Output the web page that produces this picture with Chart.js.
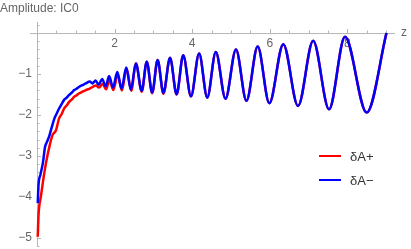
<!DOCTYPE html>
<html>
<head>
<meta charset="utf-8">
<script src="https://cdn.jsdelivr.net/npm/chart.js@4.4.1/dist/chart.umd.min.js"></script>
<style>
  html, body { margin: 0; padding: 0; background: #fff; }
  #wrap { width: 411px; height: 249px; }
</style>
</head>
<body>
<div id="wrap"><canvas id="ampChart" width="411" height="249"></canvas></div>
<script>
// valeurs (z, amplitude)
const plotTitle = 'Amplitude: IC0';
const axisLabelX = 'z';
const seriesNames = ['δA+', 'δA−'];
const xTickLabels = [2, 4, 6, 8];
const yTickLabels = [-1, -2, -3, -4, -5];

const zPlus = [0.02, 0.04, 0.10, 0.16, 0.23, 0.32, 0.40, 0.49, 0.57, 0.64, 0.70, 0.77, 0.83, 0.90, 0.96, 1.02, 1.09, 1.17, 1.26, 1.35, 1.44,
  1.52, 1.60, 1.69, 1.78, 1.87, 1.97, 2.08, 2.19, 2.31, 2.43, 2.55, 2.70, 2.83, 2.97, 3.11, 3.26, 3.43, 3.60, 3.77, 3.97,
  4.18, 4.39, 4.61, 4.86, 5.13, 5.40, 5.69, 5.99, 6.35, 6.73, 7.12, 7.53, 7.94, 8.50, 9.01];
const ampPlus = [-4.97, -4.44, -3.99, -3.59, -3.18, -2.77, -2.49, -2.37, -2.08, -1.97, -1.84, -1.76, -1.68, -1.62, -1.55, -1.52, -1.47, -1.43, -1.39, -1.36, -1.31,
  -1.28, -1.33, -1.24, -1.37, -1.16, -1.39, -1.01, -1.40, -0.86, -1.41, -0.74, -1.43, -0.70, -1.47, -0.66, -1.48, -0.60, -1.50, -0.54, -1.55,
  -0.50, -1.58, -0.46, -1.60, -0.40, -1.65, -0.33, -1.71, -0.27, -1.78, -0.19, -1.86, -0.09, -1.94, 0.00];

const zMinus = [0.02, 0.04, 0.09, 0.15, 0.21, 0.26, 0.32, 0.38, 0.45, 0.50, 0.57, 0.62, 0.70, 0.76, 0.83, 0.90, 0.96, 1.02, 1.09, 1.17, 1.26, 1.36,
  1.43, 1.51, 1.59, 1.68, 1.77, 1.86, 1.96, 2.07, 2.18, 2.30, 2.42, 2.55, 2.70, 2.83, 2.97, 3.11, 3.26, 3.43, 3.60, 3.77, 3.97,
  4.18, 4.39, 4.61, 4.86, 5.13, 5.40, 5.69, 5.99, 6.35, 6.73, 7.12, 7.53, 7.94, 8.50, 9.01];
const ampMinus = [-4.15, -3.70, -3.45, -3.18, -2.77, -2.65, -2.50, -2.30, -2.08, -1.98, -1.84, -1.76, -1.63, -1.58, -1.51, -1.45, -1.39, -1.36, -1.31, -1.27, -1.23, -1.18,
  -1.23, -1.16, -1.26, -1.12, -1.30, -1.05, -1.33, -0.95, -1.36, -0.84, -1.38, -0.74, -1.41, -0.70, -1.45, -0.66, -1.46, -0.60, -1.49, -0.54, -1.54,
  -0.50, -1.57, -0.46, -1.60, -0.40, -1.65, -0.33, -1.71, -0.27, -1.78, -0.19, -1.86, -0.09, -1.94, 0.00];

const seriesColors = ['#ff0000', '#0000ff'];

function toPoints(xs, ys) {
    return xs.map((x, i) => ({ x: x, y: ys[i] }));
}

// axes façon Mathematica, dessinés avec les échelles de Chart.js
const axesPlugin = {
    id: 'mmaAxes',
    beforeDatasetsDraw(chart) {
        const ctx = chart.ctx;
        const xs = chart.scales.x;
        const ys = chart.scales.y;
        const x0 = xs.getPixelForValue(0);
        const y0 = ys.getPixelForValue(0);
        ctx.save();
        ctx.strokeStyle = '#b5b5b5';
        ctx.lineWidth = 1;
        ctx.beginPath();
        ctx.moveTo(xs.left, y0 + 0.5);
        ctx.lineTo(xs.right, y0 + 0.5);
        ctx.moveTo(x0 + 0.5, ys.top);
        ctx.lineTo(x0 + 0.5, ys.bottom);
        // petites graduations
        for (let v = 0.5; v < xs.max; v += 0.5) {
            const px = Math.round(xs.getPixelForValue(v)) + 0.5;
            const len = (Math.abs(v % 2) < 1e-6) ? 4 : 2.5;
            ctx.moveTo(px, y0);
            ctx.lineTo(px, y0 - len);
        }
        for (let v = 0.2; v < ys.max; v += 0.2) {
            const py = Math.round(ys.getPixelForValue(v)) + 0.5;
            ctx.moveTo(x0, py);
            ctx.lineTo(x0 + 2.5, py);
        }
        for (let k = -1; k * 0.2 > ys.min; k--) {
            const v = k * 0.2;
            const py = Math.round(ys.getPixelForValue(v)) + 0.5;
            const len = (k % 5 === 0) ? 4 : 2.5;
            ctx.moveTo(x0, py);
            ctx.lineTo(x0 + len, py);
        }
        ctx.stroke();

        ctx.fillStyle = '#666';
        ctx.font = '12px "Liberation Sans", Arial, sans-serif';
        ctx.textAlign = 'center';
        ctx.textBaseline = 'top';
        xTickLabels.forEach(v => {
            ctx.fillText(String(v), xs.getPixelForValue(v), y0 + 5);
        });
        ctx.textAlign = 'right';
        ctx.textBaseline = 'middle';
        yTickLabels.forEach(v => {
            ctx.fillText('−' + Math.abs(v), x0 - 5, ys.getPixelForValue(v));
        });
        ctx.restore();
    },
    afterDraw(chart) {
        const ctx = chart.ctx;
        const xs = chart.scales.x;
        const y0 = chart.scales.y.getPixelForValue(0);
        ctx.save();
        ctx.fillStyle = '#666';
        ctx.font = '12px "Liberation Sans", Arial, sans-serif';
        ctx.textAlign = 'left';
        ctx.textBaseline = 'middle';
        ctx.fillText(plotTitle, 0, 9);
        ctx.fillText(axisLabelX, xs.right + 6, y0);

        // légende
        ctx.font = '13px "Liberation Sans", Arial, sans-serif';
        ctx.fillStyle = '#333';
        const rows = [156, 180];
        seriesNames.forEach((name, i) => {
            ctx.strokeStyle = seriesColors[i];
            ctx.lineWidth = 2;
            ctx.beginPath();
            ctx.moveTo(319, rows[i]);
            ctx.lineTo(341, rows[i]);
            ctx.stroke();
            ctx.fillText(name, 350, rows[i] + 1);
        });
        ctx.restore();
    }
};

new Chart(document.getElementById('ampChart').getContext('2d'), {
    type: 'line',
    data: {
        datasets: [{
            label: seriesNames[0],
            data: toPoints(zPlus, ampPlus),
            borderColor: seriesColors[0],
            order: 2
        }, {
            label: seriesNames[1],
            data: toPoints(zMinus, ampMinus),
            borderColor: seriesColors[1],
            order: 1
        }]
    },
    options: {
        responsive: false,
        animation: false,
        layout: { padding: { left: 30, right: 16, top: 22, bottom: 2 } },
        elements: {
            line: { borderWidth: 2.5, cubicInterpolationMode: 'monotone', fill: false },
            point: { radius: 0 }
        },
        scales: {
            x: { type: 'linear', min: -0.18, max: 9.23, display: false },
            y: { type: 'linear', min: -5.22, max: 0.27, display: false }
        },
        plugins: {
            legend: { display: false },
            tooltip: { enabled: false }
        }
    },
    plugins: [axesPlugin]
});
</script>
</body>
</html>
